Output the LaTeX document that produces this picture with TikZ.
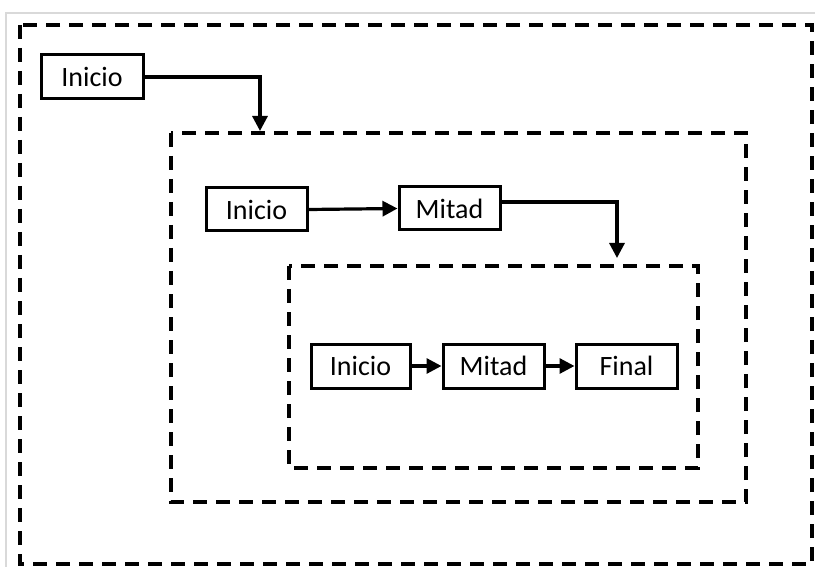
\documentclass[tikz,border=0pt]{standalone}
\usepackage{fontspec}
\setmainfont{Carlito}
\usetikzlibrary{arrows.meta}
\begin{document}
\begin{tikzpicture}[x=1pt,y=-1pt,
  frame/.style={draw=black,line width=3.6pt,dash pattern=on 14pt off 9pt},
  box/.style={draw=black,line width=3pt,inner sep=0pt,font=\fontsize{28}{32}\selectfont,text=black},
  conn/.style={line width=3.2pt,-{Triangle[length=15pt,width=15pt]}}]
\useasboundingbox (0,0) rectangle (815,567);
\fill[white] (0,0) rectangle (815,567);
\draw[black!15,line width=1.5pt] (6,567) -- (6,13) -- (815,13);
% dashed containers
\draw[frame] (20,25) rectangle (812,564);
\draw[frame] (171,133) rectangle (746,502);
\draw[frame] (289,266) rectangle (698,468);
% boxes
\node[box,minimum width=102pt,minimum height=44pt] (a1) at (92,77) {Inicio};
\node[box,minimum width=101pt,minimum height=43pt] (b1) at (256.5,209.5) {Inicio};
\node[box,minimum width=101pt,minimum height=43pt] (b2) at (449.5,208.5) {Mitad};
\node[box,minimum width=99pt,minimum height=44pt] (c1) at (360.5,366) {Inicio};
\node[box,minimum width=101pt,minimum height=44pt] (c2) at (493.5,366) {Mitad};
\node[box,minimum width=101pt,minimum height=44pt] (c3) at (626.5,366) {Final};
\coordinate (t1) at (260,131);
\coordinate (t2) at (617,258);
% connectors
\draw[conn] (a1.east) -| (t1);
\draw[conn] (b1.east) -- (b2.west);
\draw[conn] (b2.east|-0,202) -| (t2);
\draw[conn] (c1.east) -- (c2.west);
\draw[conn] (c2.east) -- (c3.west);
\end{tikzpicture}
\end{document}
